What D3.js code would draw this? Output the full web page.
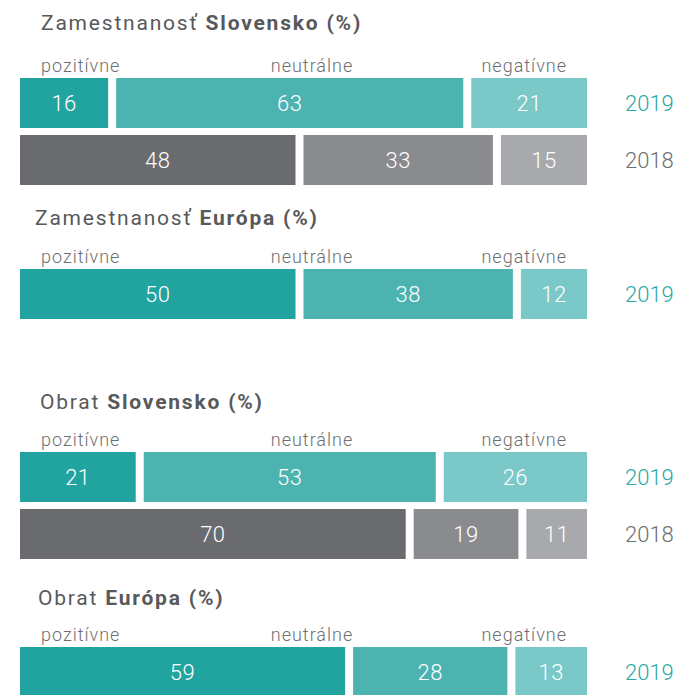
<!DOCTYPE html>
<html>
<head>
<meta charset="utf-8">
<script src="https://d3js.org/d3.v7.min.js"></script>
<style>
  body { margin: 0; background: #fff; }
  svg text { font-family: Roboto, "Liberation Sans", sans-serif; }
</style>
</head>
<body>
<div id="chart"></div>
<script>
// categories and years
var categories = ["pozitívne", "neutrálne", "negatívne"];
var years = ["2019", "2018"];

// panel titles: regular part, bold part
var titleLead = ["Zamestnanosť ", "Zamestnanosť ", "Obrat ", "Obrat "];
var titleBold = ["Slovensko (%)", "Európa (%)", "Slovensko (%)", "Európa (%)"];

// values (%) per panel
var zamSlovensko2019 = [16, 63, 21];
var zamSlovensko2018 = [48, 33, 15];
var zamEuropa2019 = [50, 38, 12];
var obratSlovensko2019 = [21, 53, 26];
var obratSlovensko2018 = [70, 19, 11];
var obratEuropa2019 = [59, 28, 13];

var panels = [
  { rows: [{ year: "2019", values: zamSlovensko2019 }, { year: "2018", values: zamSlovensko2018 }] },
  { rows: [{ year: "2019", values: zamEuropa2019 }] },
  { rows: [{ year: "2019", values: obratSlovensko2019 }, { year: "2018", values: obratSlovensko2018 }] },
  { rows: [{ year: "2019", values: obratEuropa2019 }] }
];

// layout
var width = 680, height = 695;
var left = 20, right = 587, gap = 8;
var panelTop = [78, 269, 452, 647];   // top of first bar row
var titleY = [30, 225, 409, 605];
var titleX = [41, 35, 40, 38];

var colors = {
  "2019": ["#21a39f", "#4cb3b1", "#7ac8c7"],
  "2018": ["#6a6b6f", "#8a8b8f", "#a8a9ac"]
};
var yearColor = { "2019": "#2aa8a4", "2018": "#6d6e71" };

var svg = d3.select("#chart").append("svg")
  .attr("width", width)
  .attr("height", height);

var y = d3.scaleBand().domain(years).range([0, 107]).paddingInner(7 / 57);

panels.forEach(function(p, i) {
  // title
  var t = svg.append("text")
    .attr("x", titleX[i])
    .attr("y", titleY[i])
    .attr("fill", "#58595b")
    .style("font-size", "21px")
    .style("letter-spacing", "1.8px");
  t.append("tspan").text(titleLead[i]);
  t.append("tspan").style("font-weight", "bold").text(titleBold[i]);

  var g = svg.append("g").attr("transform", "translate(0," + panelTop[i] + ")");

  // category labels
  var labelX = [41, 312, 567];
  var anchors = ["start", "middle", "end"];
  g.selectAll(".cat")
    .data(categories)
    .enter().append("text")
    .attr("x", function(d, k) { return labelX[k]; })
    .attr("y", -6)
    .attr("text-anchor", function(d, k) { return anchors[k]; })
    .attr("fill", "#6d6e71")
    .style("font-size", "18px")
    .style("font-weight", 300)
    .style("letter-spacing", "1px")
    .text(function(d) { return d; });

  p.rows.forEach(function(row) {
    // each row fills the full width
    var x = d3.scaleLinear()
      .domain([0, d3.sum(row.values)])
      .range([0, right - left - 2 * gap]);
    var segs = [], cum = 0;
    row.values.forEach(function(v, k) {
      segs.push({ v: v, x0: left + x(cum) + k * gap, w: x(v), k: k });
      cum += v;
    });
    var rg = g.append("g").attr("transform", "translate(0," + y(row.year) + ")");

    rg.selectAll("rect")
      .data(segs)
      .enter().append("rect")
      .attr("x", function(d) { return d.x0; })
      .attr("y", 0)
      .attr("width", function(d) { return d.w; })
      .attr("height", y.bandwidth())
      .attr("fill", function(d) { return colors[row.year][d.k]; });

    rg.selectAll(".val")
      .data(segs)
      .enter().append("text")
      .attr("x", function(d) { return d.x0 + d.w / 2; })
      .attr("y", y.bandwidth() / 2 + 8)
      .attr("text-anchor", "middle")
      .attr("fill", "#fff")
      .style("font-size", "22px")
      .style("font-weight", 300)
      .style("letter-spacing", "0.5px")
      .text(function(d) { return d.v; });

    rg.append("text")
      .attr("x", 625)
      .attr("y", y.bandwidth() / 2 + 8)
      .attr("fill", yearColor[row.year])
      .style("font-size", "22px")
      .style("font-weight", 300)
      .text(row.year);
  });
});
</script>
</body>
</html>
